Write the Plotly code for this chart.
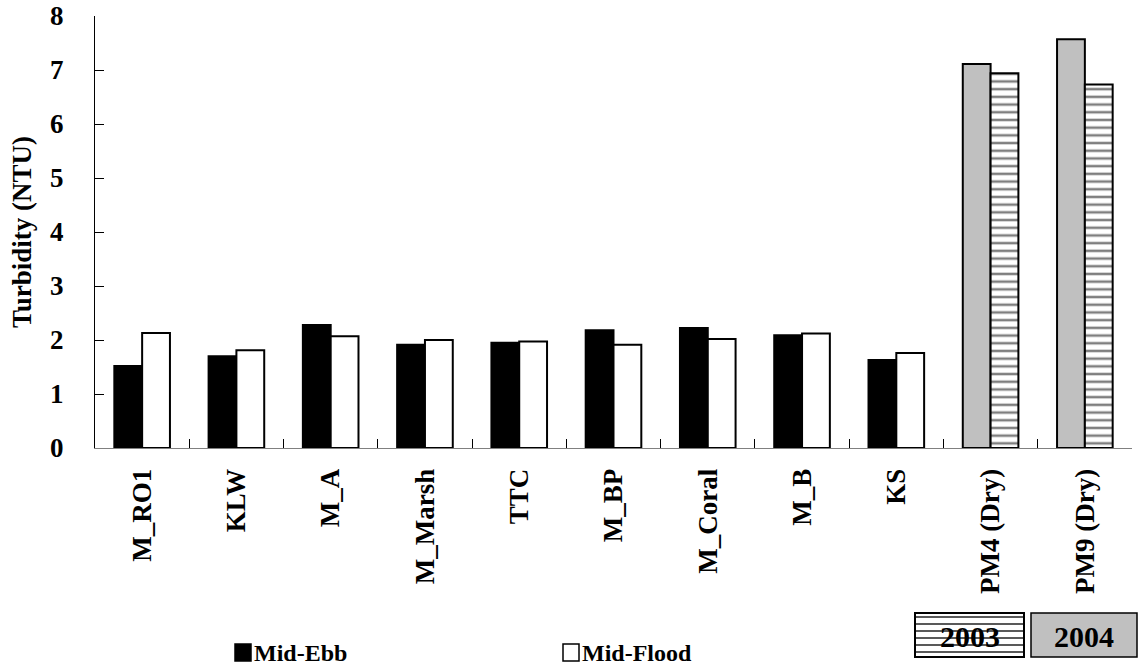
import plotly.graph_objects as go

categories = ["M_RO1", "KLW", "M_A", "M_Marsh", "TTC", "M_BP", "M_Coral", "M_B", "KS",
              "PM4 (Dry)", "PM9 (Dry)"]
# first bar of each pair: Mid-Ebb (for PM stations: 2004)
mid_ebb = [1.52, 1.70, 2.28, 1.91, 1.95, 2.18, 2.22, 2.09, 1.63, 7.11, 7.57]
# second bar of each pair: Mid-Flood (for PM stations: 2003)
mid_flood = [2.13, 1.81, 2.07, 2.00, 1.97, 1.91, 2.02, 2.12, 1.76, 6.94, 6.73]
is_pm = [c.startswith("PM") for c in categories]
y_ticks = [0, 1, 2, 3, 4, 5, 6, 7, 8]

FONT = "Liberation Serif, Times New Roman, serif"
GRAY = "#c0c0c0"

ebb_colors = [GRAY if p else "black" for p in is_pm]
flood_shapes = ["-" if p else "" for p in is_pm]

fig = go.Figure()
fig.add_trace(go.Bar(
    x=categories, y=mid_ebb, name="Mid-Ebb",
    marker=dict(color=ebb_colors, line=dict(color="black", width=2)),
    showlegend=False,
))
fig.add_trace(go.Bar(
    x=categories, y=mid_flood, name="Mid-Flood",
    marker=dict(color="white", line=dict(color="black", width=2),
                pattern=dict(shape=flood_shapes, fgcolor="black", bgcolor="white",
                             size=7.7, solidity=0.33)),
    showlegend=False,
))

fig.update_layout(
    width=1139, height=670,
    margin=dict(l=95, r=7, t=16, b=222, autoexpand=False),
    paper_bgcolor="white", plot_bgcolor="white",
    barmode="group", bargap=0.41, bargroupgap=0,
    font=dict(family=FONT, color="black", size=27),
    xaxis=dict(
        automargin=False,
        showline=True, linecolor="#808080", linewidth=1,
        ticks="inside", tickson="boundaries", ticklen=9, tickcolor="black", tickwidth=1,
        tickangle=-90, tickfont=dict(family=FONT, size=27),
        tickvals=categories, ticktext=["<b>%s</b>" % c for c in categories],
        ticklabelstandoff=9,
        showgrid=False, zeroline=False,
    ),
    yaxis=dict(
        automargin=False,
        range=[0, 8], tickvals=y_ticks, ticktext=["<b>%d</b>" % v for v in y_ticks],
        showline=True, linecolor="black", linewidth=1,
        ticks="inside", ticklen=9, tickcolor="black", tickwidth=1,
        tickfont=dict(family=FONT, size=27),
        ticklabelstandoff=25,
        showgrid=False, zeroline=False,
        title=dict(text="<b>Turbidity (NTU)</b>", font=dict(family=FONT, size=27),
                   standoff=10),
    ),
)

def px_x(v):
    return (v - 95) / 1037

def px_y(v):
    return (448 - v) / 432

# Legend for Mid-Ebb / Mid-Flood (squares + text)
shapes = []
annotations = []
for sq_x, fill, label in [(235, "black", "Mid-Ebb"), (563, "white", "Mid-Flood")]:
    shapes.append(dict(type="rect", xref="paper", yref="paper",
                       x0=px_x(sq_x), x1=px_x(sq_x + 16),
                       y0=px_y(661), y1=px_y(644),
                       fillcolor=fill, line=dict(color="black", width=1.5)))
    annotations.append(dict(xref="paper", yref="paper", x=px_x(sq_x + 17),
                            y=px_y(653), xanchor="left", yanchor="middle",
                            text="<b>%s</b>" % label, showarrow=False,
                            font=dict(family=FONT, size=24)))

# Year boxes: 2003 (hatched) and 2004 (gray)
shapes.append(dict(type="rect", xref="paper", yref="paper",
                   x0=px_x(915), x1=px_x(1024), y0=px_y(657), y1=px_y(613),
                   fillcolor="white", line=dict(color="black", width=2)))
for ly in [617, 624, 631, 638, 645, 652]:
    shapes.append(dict(type="line", xref="paper", yref="paper",
                       x0=px_x(916), x1=px_x(1023), y0=px_y(ly), y1=px_y(ly),
                       line=dict(color="#222222", width=1.6)))
shapes.append(dict(type="rect", xref="paper", yref="paper",
                   x0=px_x(1031), x1=px_x(1137), y0=px_y(657), y1=px_y(613),
                   fillcolor=GRAY, line=dict(color="black", width=1.5)))
for cx, label in [(969.5, "2003"), (1084, "2004")]:
    annotations.append(dict(xref="paper", yref="paper", x=px_x(cx), y=px_y(636),
                            xanchor="center", yanchor="middle", text="<b>%s</b>" % label,
                            showarrow=False,
                            font=dict(family=FONT, size=30)))

fig.update_layout(shapes=shapes, annotations=annotations)

fig.write_html("out.html", config={"displayModeBar": False},
               post_script="document.body.style.margin='0';")
